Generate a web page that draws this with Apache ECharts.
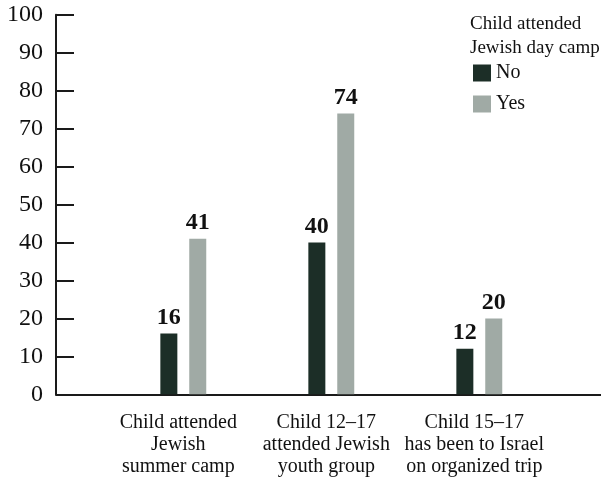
<!DOCTYPE html>
<html>
<head>
<meta charset="utf-8">
<script src="https://cdn.jsdelivr.net/npm/echarts@6/dist/echarts.min.js"></script>
<style>
html,body{margin:0;padding:0;background:#fff;}
#chart{width:601px;height:478px;}
</style>
</head>
<body>
<div id="chart"></div>
<script>
var categories = ["Child attended\nJewish\nsummer camp", "Child 12\u201317\nattended Jewish\nyouth group", "Child 15\u201317\nhas been to Israel\non organized trip"];
var noValues = [16, 40, 12];
var yesValues = [41, 74, 20];
var seriesNames = ["No", "Yes"];
var legendTitle = "Child attended\nJewish day camp";

var FONT = "'Liberation Serif', 'DejaVu Serif', serif";
var chart = echarts.init(document.getElementById('chart'));
var topPx = 14.7, bottomPx = 478 - 394.3;
chart.setOption({
  backgroundColor: '#fff',
  animation: false,
  title: {
    text: legendTitle,
    left: 465, top: 7,
    textStyle: {fontFamily: FONT, fontSize: 19, fontWeight: 'normal', color: '#111', lineHeight: 24}
  },
  legend: {
    data: seriesNames,
    orient: 'vertical',
    left: 468, top: 58,
    itemWidth: 18, itemHeight: 17, itemGap: 11,
    icon: 'rect',
    textStyle: {fontFamily: FONT, fontSize: 20, color: '#111'}
  },
  grid: [
    {left: 56, right: 0, top: topPx, bottom: bottomPx},
    {left: 109.3, right: 47.7, top: topPx, bottom: bottomPx}
  ],
  xAxis: [
    {gridIndex: 0, type: 'value', min: 0, max: 1,
     axisLine: {show: true, lineStyle: {color: '#1a1a1a', width: 2}},
     axisTick: {show: false}, axisLabel: {show: false}, splitLine: {show: false}},
    {gridIndex: 1, type: 'category', data: categories,
     axisLine: {show: false}, axisTick: {show: false},
     axisLabel: {fontFamily: FONT, fontSize: 20, color: '#111', lineHeight: 22, margin: 17, padding: [0, 10, 0, 0], interval: 0}}
  ],
  yAxis: [
    {gridIndex: 0, type: 'value', min: 0, max: 100, interval: 10,
     axisLine: {show: true, lineStyle: {color: '#1a1a1a', width: 2}},
     axisTick: {show: true, inside: true, length: 18, lineStyle: {color: '#1a1a1a', width: 2}},
     axisLabel: {fontFamily: FONT, fontSize: 24, color: '#111', margin: 13},
     splitLine: {show: false}},
    {gridIndex: 1, type: 'value', min: 0, max: 100, show: false, splitLine: {show: false}}
  ],
  series: [
    {name: seriesNames[0], type: 'bar', xAxisIndex: 1, yAxisIndex: 1, data: noValues,
     barWidth: 17, barGap: '70%',
     itemStyle: {color: '#1c2e27'},
     label: {show: true, position: 'top', distance: 4, fontFamily: FONT, fontSize: 24, fontWeight: 'bold', color: '#111'}},
    {name: seriesNames[1], type: 'bar', xAxisIndex: 1, yAxisIndex: 1, data: yesValues,
     barWidth: 17, barGap: '70%',
     itemStyle: {color: '#a0aaa5'},
     label: {show: true, position: 'top', distance: 4, fontFamily: FONT, fontSize: 24, fontWeight: 'bold', color: '#111'}}
  ]
});
</script>
</body>
</html>
